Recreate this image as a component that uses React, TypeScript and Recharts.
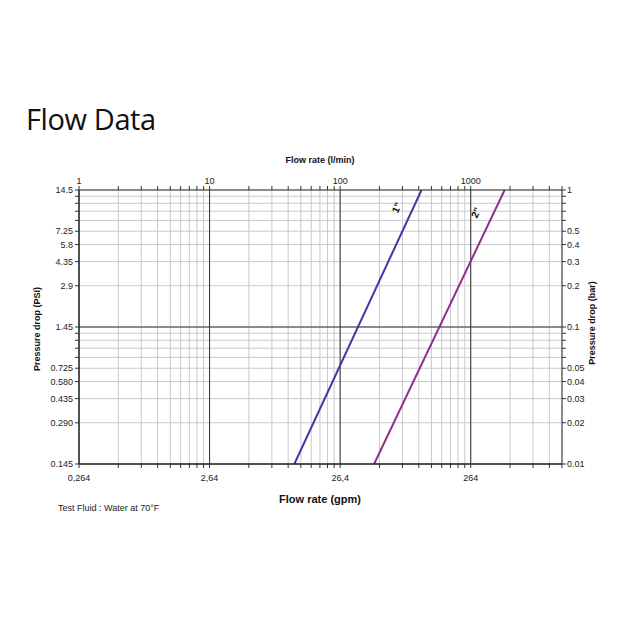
import React from 'react';
import {
  LineChart,
  Line,
  XAxis,
  YAxis,
  CartesianGrid,
  ReferenceLine,
  ReferenceDot,
} from 'recharts';

// Flow rate (l/min) axis ticks (top), log scale 1..5000
const flowTicks = [
  1, 2, 3, 4, 5, 6, 7, 8, 9,
  10, 20, 30, 40, 50, 60, 70, 80, 90,
  100, 200, 300, 400, 500, 600, 700, 800, 900,
  1000, 2000, 3000, 4000, 5000,
];
const flowMajor = [10, 100, 1000];
const flowLabels: Record<number, string> = { 1: '1', 10: '10', 100: '100', 1000: '1000' };
const gpmLabels: Record<number, string> = { 1: '0,264', 10: '2,64', 100: '26,4', 1000: '264' };

// Pressure drop (bar) ticks, log scale 0.01..1
const barTicks = [
  0.01, 0.02, 0.03, 0.04, 0.05, 0.06, 0.07, 0.08, 0.09,
  0.1, 0.2, 0.3, 0.4, 0.5, 0.6, 0.7, 0.8, 0.9, 1,
];
const barMajor = [0.1];
const barLabels: Record<number, string> = {
  1: '1', 0.5: '0.5', 0.4: '0.4', 0.3: '0.3', 0.2: '0.2', 0.1: '0.1',
  0.05: '0.05', 0.04: '0.04', 0.03: '0.03', 0.02: '0.02', 0.01: '0.01',
};
const psiLabels: Record<number, string> = {
  1: '14.5', 0.5: '7.25', 0.4: '5.8', 0.3: '4.35', 0.2: '2.9', 0.1: '1.45',
  0.05: '0.725', 0.04: '0.580', 0.03: '0.435', 0.02: '0.290', 0.01: '0.145',
};

// Series: 1" and 2" valves
const flow1in = [44.6, 420];
const drop1in = [0.01, 1];
const flow2in = [182, 1818];
const drop2in = [0.01, 1];

const series1 = flow1in.map((q, i) => ({ q, dp: drop1in[i] }));
const series2 = flow2in.map((q, i) => ({ q, dp: drop2in[i] }));

// curve label anchors
const label1 = { q: 275, dp: 0.74, text: '1"' };
const label2 = { q: 1111, dp: 0.68, text: '2"' };

const FONT = '"Liberation Sans", Arial, sans-serif';
const tickStyle = { fontSize: 9, fill: '#222', fontFamily: FONT };

const rotatedLabel = (text: string) => (p: any) => (
  <text
    x={p.cx}
    y={p.cy}
    transform={`rotate(-65 ${p.cx} ${p.cy})`}
    textAnchor="middle"
    dominantBaseline="middle"
    fontSize={10}
    fontWeight="bold"
    fontFamily={FONT}
    fill="#111"
  >
    {text}
  </text>
);

export default function App() {
  return (
    <div style={{ position: 'absolute', left: 0, top: 0, width: 620, height: 620, background: '#fff' }}>
      <LineChart
        width={620}
        height={620}
        margin={{ top: 170, right: 18, bottom: 136, left: 39 }}
      >
        <CartesianGrid
          xAxisId="top"
          yAxisId="right"
          stroke="#c9c9cf"
          strokeWidth={1}
        />
        {flowMajor.map((v) => (
          <ReferenceLine key={'fx' + v} x={v} xAxisId="top" yAxisId="right" stroke="#333" strokeWidth={1} />
        ))}
        {barMajor.map((v) => (
          <ReferenceLine key={'by' + v} y={v} xAxisId="top" yAxisId="right" stroke="#333" strokeWidth={1} />
        ))}
        <XAxis
          xAxisId="top"
          orientation="top"
          dataKey="q"
          type="number"
          scale="log"
          domain={[1, 5000]}
          allowDataOverflow
          ticks={flowTicks}
          interval={0}
          height={20}
          tickSize={4}
          tickLine={{ stroke: '#333' }}
          axisLine={{ stroke: '#333' }}
          tick={tickStyle}
          tickFormatter={(v: number) => flowLabels[v] ?? ''}
        />
        <XAxis
          xAxisId="bottom"
          orientation="bottom"
          dataKey="q"
          type="number"
          scale="log"
          domain={[1, 5000]}
          allowDataOverflow
          ticks={flowTicks}
          interval={0}
          height={20}
          tickSize={4}
          tickMargin={7}
          tickLine={{ stroke: '#333' }}
          axisLine={{ stroke: '#222', strokeWidth: 1.5 }}
          tick={tickStyle}
          tickFormatter={(v: number) => gpmLabels[v] ?? ''}
        />
        <YAxis
          yAxisId="left"
          orientation="left"
          dataKey="dp"
          type="number"
          scale="log"
          domain={[0.01, 1]}
          allowDataOverflow
          ticks={barTicks}
          interval={0}
          width={40}
          tickSize={4}
          tickLine={{ stroke: '#333' }}
          axisLine={{ stroke: '#222', strokeWidth: 1.5 }}
          tick={tickStyle}
          tickFormatter={(v: number) => psiLabels[v] ?? ''}
        />
        <YAxis
          yAxisId="right"
          orientation="right"
          dataKey="dp"
          type="number"
          scale="log"
          domain={[0.01, 1]}
          allowDataOverflow
          ticks={barTicks}
          interval={0}
          width={40}
          tickSize={4}
          tickMargin={1}
          tickLine={{ stroke: '#333' }}
          axisLine={{ stroke: '#333' }}
          tick={tickStyle}
          tickFormatter={(v: number) => barLabels[v] ?? ''}
        />
        <Line
          xAxisId="top"
          yAxisId="right"
          data={series1}
          dataKey="dp"
          stroke="#3b3ba3"
          strokeWidth={2}
          dot={false}
          isAnimationActive={false}
        />
        <Line
          xAxisId="top"
          yAxisId="right"
          data={series2}
          dataKey="dp"
          stroke="#8e2f8e"
          strokeWidth={2}
          dot={false}
          isAnimationActive={false}
        />
        <ReferenceDot
          xAxisId="top"
          yAxisId="right"
          x={label1.q}
          y={label1.dp}
          r={0}
          shape={rotatedLabel(label1.text)}
        />
        <ReferenceDot
          xAxisId="top"
          yAxisId="right"
          x={label2.q}
          y={label2.dp}
          r={0}
          shape={rotatedLabel(label2.text)}
        />
      </LineChart>
      <svg
        width={620}
        height={620}
        style={{ position: 'absolute', left: 0, top: 0, pointerEvents: 'none' }}
      >
        <text x={26} y={130} fontSize={29} letterSpacing={-0.4} fontFamily='"Open Sans", sans-serif' fill="#111">
          Flow Data
        </text>
        <text x={320} y={163} textAnchor="middle" fontSize={9} fontWeight="bold" fontFamily={FONT} fill="#111">
          Flow rate (l/min)
        </text>
        <text x={320} y={503} textAnchor="middle" fontSize={11} fontWeight="bold" fontFamily={FONT} fill="#111">
          Flow rate (gpm)
        </text>
        <text x={58} y={511} fontSize={9} fontFamily={FONT} fill="#222">
          Test Fluid : Water at 70°F
        </text>
        <text
          x={40}
          y={329}
          transform="rotate(-90 40 329)"
          textAnchor="middle"
          fontSize={9}
          fontWeight="bold"
          fontFamily={FONT}
          fill="#111"
        >
          Pressure drop (PSI)
        </text>
        <text
          x={595}
          y={323}
          transform="rotate(-90 595 323)"
          textAnchor="middle"
          fontSize={9}
          fontWeight="bold"
          fontFamily={FONT}
          fill="#111"
        >
          Pressure drop (bar)
        </text>
      </svg>
    </div>
  );
}
